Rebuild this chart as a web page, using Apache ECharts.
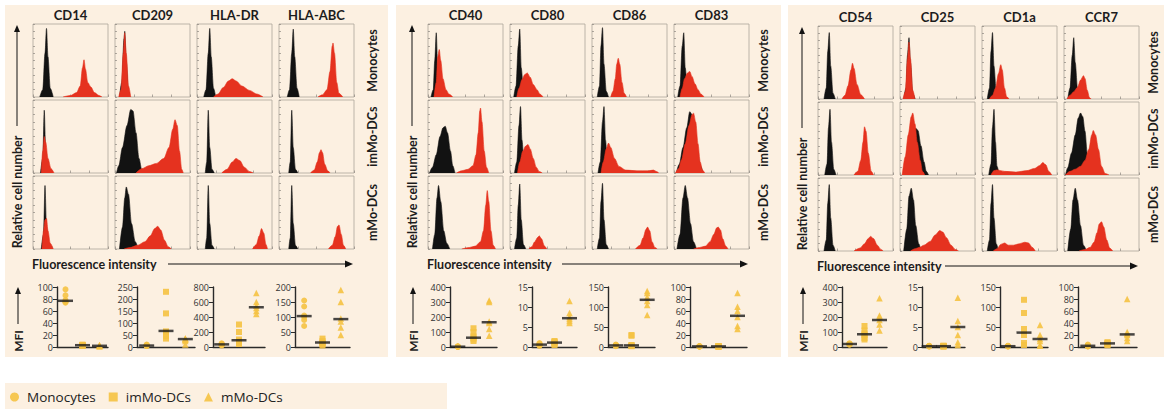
<!DOCTYPE html>
<html><head><meta charset="utf-8">
<script src="https://cdn.jsdelivr.net/npm/echarts@6/dist/echarts.min.js"></script>
<style>html,body{margin:0;padding:0;background:#fff;}#c{width:1170px;height:412px;}</style>
</head><body><div id="c"></div>
<script>
// ---------- labels ----------
const markers = [['CD14','CD209','HLA-DR','HLA-ABC'],['CD40','CD80','CD86','CD83'],['CD54','CD25','CD1a','CCR7']];
const cellTypes = ['Monocytes','imMo-DCs','mMo-DCs'];

// ---------- histogram curves: [intensity %, relative count %] per row (Monocytes, imMo-DCs, mMo-DCs) ----------
const black_CD14 = [
 [[9,0],[13,10],[16,60],[18,94],[20,55],[23,12],[27,0]],
 [[10,0],[13,20],[15,86],[17,30],[20,3],[23,0]],
 [[11,0],[14,20],[16,87],[18,30],[21,3],[24,0]]];
const red_CD14 = [
 [[40,0],[50,2],[58,6],[63,15],[66,40],[68,51],[70,38],[73,20],[77,14],[82,6],[88,2],[92,0]],
 [[11,0],[13,30],[15,50],[17,42],[20,20],[24,6],[28,0]],
 [[12,0],[14,25],[16,40],[18,42],[20,25],[23,8],[27,0]]];
const black_CD209 = [
 [[6,0],[9,20],[12,80],[13,90],[15,50],[18,5],[20,0]],
 [[2,0],[5,10],[10,35],[16,65],[21,87],[24,85],[28,55],[32,20],[36,3],[38,0]],
 [[6,0],[10,30],[13,70],[15,85],[18,75],[22,35],[27,10],[31,0]]];
const red_CD209 = [
 [[5,0],[8,10],[11,60],[13,88],[15,60],[18,15],[21,0]],
 [[28,0],[36,6],[45,10],[55,13],[65,20],[72,35],[77,60],[80,73],[83,65],[86,30],[89,5],[91,0]],
 [[12,0],[20,2],[30,5],[40,10],[47,18],[53,28],[57,31],[61,26],[66,12],[71,3],[75,0]]];
const black_HLADR = [
 [[9,0],[12,10],[15,60],[17,94],[19,55],[22,12],[25,0]],
 [[11,0],[13,15],[15,86],[17,35],[20,5],[23,0]],
 [[11,0],[13,15],[15,87],[17,35],[20,5],[23,0]]];
const red_HLADR = [
 [[22,0],[28,4],[35,13],[42,22],[47,25],[52,22],[60,15],[70,9],[80,4],[88,0]],
 [[33,0],[40,5],[47,15],[52,20],[57,17],[63,8],[70,2],[75,0]],
 [[74,0],[79,6],[83,18],[86,28],[89,22],[92,6],[94,0]]];
const black_HLAABC = [
 [[11,0],[14,10],[17,60],[19,93],[21,55],[24,12],[27,0]],
 [[13,0],[15,15],[17,86],[19,35],[22,5],[25,0]],
 [[13,0],[15,15],[17,87],[19,35],[22,5],[25,0]]];
const red_HLAABC = [
 [[52,0],[58,3],[64,10],[68,35],[71,70],[72,74],[74,60],[77,20],[80,5],[85,0]],
 [[42,0],[47,4],[51,15],[54,28],[56,32],[58,28],[61,12],[65,3],[68,0]],
 [[66,0],[71,5],[75,17],[78,31],[80,33],[83,20],[86,5],[89,0]]];
const black_CD40 = [
 [[4,0],[7,10],[9,50],[11,88],[13,40],[15,10],[18,0]],
 [[2,0],[6,8],[11,25],[16,50],[20,62],[23,64],[26,55],[30,30],[33,10],[36,0]],
 [[6,0],[9,20],[12,70],[14,87],[17,65],[21,25],[25,8],[29,0]]];
const red_CD40 = [
 [[8,0],[11,20],[13,55],[15,65],[17,50],[20,25],[24,10],[28,4],[33,0]],
 [[38,0],[45,3],[53,5],[60,10],[64,25],[67,55],[69,85],[70,89],[72,70],[75,30],[78,8],[81,0]],
 [[45,0],[55,2],[63,4],[70,10],[74,25],[77,60],[79,80],[81,65],[84,25],[87,5],[90,0]]];
const black_CD80 = [
 [[5,0],[8,15],[11,70],[13,93],[15,40],[18,8],[21,0]],
 [[6,0],[9,15],[12,65],[14,91],[16,45],[19,8],[22,0]],
 [[6,0],[9,15],[11,60],[13,89],[15,40],[18,6],[21,0]]];
const red_CD80 = [
 [[9,0],[12,12],[16,24],[20,31],[23,33],[27,27],[31,17],[36,10],[40,4],[44,0]],
 [[10,0],[13,15],[17,30],[21,37],[24,39],[27,33],[31,20],[35,8],[39,2],[43,0]],
 [[25,0],[29,3],[33,10],[37,16],[39,18],[42,14],[46,4],[49,0]]];
const black_CD86 = [
 [[7,0],[10,15],[12,70],[14,95],[16,45],[19,8],[22,0]],
 [[8,0],[11,15],[14,70],[16,91],[18,45],[21,8],[24,0]],
 [[7,0],[10,15],[12,65],[14,90],[16,40],[19,6],[22,0]]];
const red_CD86 = [
 [[25,0],[28,8],[31,25],[33,45],[35,53],[37,45],[40,20],[43,5],[46,0]],
 [[12,0],[15,15],[19,33],[22,41],[25,35],[30,20],[36,9],[45,4],[60,3],[75,3],[82,4],[86,2],[89,0]],
 [[58,0],[64,5],[68,15],[72,27],[74,30],[77,25],[80,10],[84,2],[87,0]]];
const black_CD83 = [
 [[5,0],[8,15],[11,70],[13,88],[15,40],[18,8],[21,0]],
 [[3,0],[7,12],[12,35],[17,62],[21,84],[24,80],[27,60],[31,30],[35,10],[39,0]],
 [[4,0],[8,20],[12,70],[15,87],[18,70],[22,35],[26,10],[30,0]]];
const red_CD83 = [
 [[8,0],[11,12],[14,25],[18,33],[21,35],[24,28],[28,18],[32,10],[36,4],[40,0]],
 [[2,0],[6,6],[10,18],[15,40],[20,65],[24,80],[26,82],[29,70],[32,40],[35,15],[38,4],[41,0]],
 [[26,0],[34,2],[42,4],[48,10],[53,20],[57,29],[59,30],[62,26],[65,14],[69,4],[72,0]]];
const black_CD54 = [
 [[8,0],[11,15],[13,65],[15,91],[17,45],[20,8],[23,0]],
 [[9,0],[12,15],[14,65],[16,90],[18,45],[21,8],[24,0]],
 [[8,0],[11,15],[13,65],[15,91],[17,45],[20,8],[23,0]]];
const red_CD54 = [
 [[32,0],[36,5],[40,18],[44,40],[46,49],[48,42],[52,20],[57,6],[62,0]],
 [[48,0],[53,5],[57,20],[60,45],[62,66],[64,60],[67,30],[71,5],[74,0]],
 [[48,0],[56,4],[62,10],[67,17],[70,20],[74,17],[79,8],[84,2],[87,0]]];
const black_CD25 = [
 [[5,0],[8,15],[10,60],[12,84],[14,50],[17,8],[20,0]],
 [[5,0],[9,20],[13,45],[17,62],[21,64],[24,61],[28,40],[32,18],[35,5],[38,0]],
 [[5,0],[9,30],[12,75],[15,86],[18,70],[21,35],[25,10],[28,0]]];
const red_CD25 = [
 [[4,0],[7,10],[10,55],[12,78],[14,55],[17,12],[20,0]],
 [[3,0],[7,25],[11,55],[15,80],[17,85],[20,70],[23,45],[27,20],[30,5],[33,0]],
 [[14,0],[20,3],[26,5],[32,8],[40,13],[47,22],[53,28],[57,26],[62,18],[68,8],[74,2],[78,0]]];
const black_CD1a = [
 [[7,0],[10,15],[12,65],[14,91],[16,45],[19,10],[22,0]],
 [[9,0],[12,15],[14,65],[16,90],[18,45],[20,12],[23,0]],
 [[7,0],[10,15],[12,65],[14,91],[16,45],[19,10],[22,0]]];
const red_CD1a = [
 [[10,0],[14,5],[18,15],[22,35],[25,47],[27,40],[30,15],[33,3],[36,0]],
 [[12,0],[16,6],[20,7],[30,5],[45,4],[60,6],[70,9],[77,13],[81,17],[85,14],[89,5],[93,0]],
 [[15,0],[20,3],[25,9],[30,11],[35,8],[42,8],[50,10],[57,12],[62,11],[67,5],[71,0]]];
const black_CCR7 = [
 [[5,0],[8,15],[11,60],[13,84],[15,50],[18,15],[21,0]],
 [[2,0],[5,10],[10,30],[15,55],[19,78],[22,85],[25,80],[28,60],[31,30],[34,5],[36,0]],
 [[5,0],[9,30],[12,70],[15,86],[18,70],[22,35],[26,8],[30,0]]];
const red_CCR7 = [
 [[4,0],[8,5],[13,10],[18,16],[22,26],[26,32],[28,28],[31,12],[34,2],[36,0]],
 [[2,0],[8,5],[15,8],[22,12],[28,20],[33,35],[37,55],[39,61],[42,55],[46,35],[50,12],[55,2],[60,0]],
 [[20,0],[28,2],[35,5],[40,12],[44,25],[47,37],[50,40],[53,33],[57,15],[61,4],[65,0]]];

// ---------- MFI values: [Monocytes, imMo-DCs, mMo-DCs] ----------
const mfi_CD14 = [[96,86,78,76,75,74],[3,3,2,4,2,3],[2,3,2,3,1,2]];
const med_CD14 = [77,3,2];
const mfi_CD209 = [[8,5,6,4,10,7],[230,140,65,60,45,35],[35,30,25,10,35,32]];
const med_CD209 = [6,67,33];
const mfi_HLADR = [[30,50,20,40,35,25],[300,200,100,80,60,40],[720,600,550,520,480,440]];
const med_HLADR = [35,90,530];
const mfi_HLAABC = [[155,135,105,100,90,70],[28,20,15,12,10,5],[190,150,95,85,65,40]];
const med_HLAABC = [103,15,93];
const mfi_CD40 = [[2,3,1,4,2,3],[125,100,70,60,50,40],[310,300,170,160,120,75]];
const med_CD40 = [2,62,165];
const mfi_CD80 = [[0.5,0.8,0.3,0.6,1.0,0.4],[1.5,1.2,1.0,0.8,0.5,1.3],[11.5,8.5,7.5,7,6.5,6]];
const med_CD80 = [0.6,1.1,7.2];
const mfi_CD86 = [[4,5,3,6,2,5],[30,28,5,3,2,4],[140,135,125,115,105,80]];
const med_CD86 = [4,4,118];
const mfi_CD83 = [[1,1,0.5,1.5,1,0.8],[1,1.5,1,0.5,1.2,1],[90,67,60,50,35,30]];
const med_CD83 = [1,1,52];
const mfi_CD54 = [[25,20,18,22,15,20],[140,110,90,80,60,50],[325,210,200,180,150,110]];
const med_CD54 = [20,85,180];
const mfi_CD25 = [[0.2,0.3,0.1,0.2,0.3,0.2],[0.2,0.3,0.2,0.1,0.3,0.2],[12.3,6.5,5,3,1.2,0.5]];
const med_CD25 = [0.2,0.2,5];
const mfi_CD1a = [[2,3,1,2,3,2],[118,85,45,30,10,5],[55,30,20,15,5,3]];
const med_CD1a = [2,36,20];
const mfi_CCR7 = [[2,3,1,2,4,1],[8,7,5,4,3,6],[80,25,22,20,15,10]];
const med_CCR7 = [2,6,21];
const mfiMax  = [[100,250,800,200],[400,15,150,100],[400,15,150,100]];
const mfiStep = [[20,50,200,50],[100,5,50,20],[100,5,50,20]];

// ---------- lookup tables built from the arrays ----------
const hist = {CD14:[black_CD14,red_CD14],CD209:[black_CD209,red_CD209],'HLA-DR':[black_HLADR,red_HLADR],'HLA-ABC':[black_HLAABC,red_HLAABC],
 CD40:[black_CD40,red_CD40],CD80:[black_CD80,red_CD80],CD86:[black_CD86,red_CD86],CD83:[black_CD83,red_CD83],
 CD54:[black_CD54,red_CD54],CD25:[black_CD25,red_CD25],CD1a:[black_CD1a,red_CD1a],CCR7:[black_CCR7,red_CCR7]};
const mfi = {CD14:[mfi_CD14,med_CD14],CD209:[mfi_CD209,med_CD209],'HLA-DR':[mfi_HLADR,med_HLADR],'HLA-ABC':[mfi_HLAABC,med_HLAABC],
 CD40:[mfi_CD40,med_CD40],CD80:[mfi_CD80,med_CD80],CD86:[mfi_CD86,med_CD86],CD83:[mfi_CD83,med_CD83],
 CD54:[mfi_CD54,med_CD54],CD25:[mfi_CD25,med_CD25],CD1a:[mfi_CD1a,med_CD1a],CCR7:[mfi_CCR7,med_CCR7]};

// ---------- layout ----------
const panelX = [0,395,785];
const panelDY = [0,0,2];
const panelBg = [[5,5,383,352],[396,5,385,352],[788,5,376,352]];
const rowLabelX = [372,368,368];
const arrowStart = [168,167,160];
const colLeft = [33,115,197,279], rowTop = [24,100,176], cellW = 75, cellH = 73;
const sLeft = [[57,137,213,295],[55,137,213,295],[57,137,215,293]];
const sWidth = [[51,58,52,55],[47,45,47,57],[45,43,48,59]];
const sTop = 287, sHeight = 60;

const RED = '#e5321f', BLK = '#121212', GOLD = '#f5c243', TXT = '#1c1c1c', BG = '#fcf0e1';
const FONT = 'Lato, "Open Sans", sans-serif';
const symbols = ['circle','rect','triangle'];
const symSizes = [6,6,6.5];

const option = {animation:false, grid:[], xAxis:[], yAxis:[], series:[], graphic:[],
  legend:{data:cellTypes, left:10, top:390, padding:0, itemWidth:9, itemHeight:9, itemGap:13,
    textStyle:{fontFamily:'"Open Sans", sans-serif', fontSize:13.5, color:'#222', padding:[0,0,0,3]}}};
let gi = 0;
function addGrid(g, xa, ya){ option.grid.push(g); xa.gridIndex=gi; ya.gridIndex=gi; option.xAxis.push(xa); option.yAxis.push(ya); return gi++; }

const G = option.graphic;
panelBg.forEach(b=>G.push({type:'rect', z:-100, shape:{x:b[0],y:b[1],width:b[2],height:b[3]}, style:{fill:BG}}));
G.push({type:'rect', z:-100, shape:{x:5,y:383,width:442,height:26}, style:{fill:BG}});

function txt(x,y,text,size,rot,weight,align){
  G.push({type:'text', z:50, x:x, y:y, rotation:rot||0,
    style:{text:text, x:0, y:0, fill:TXT, font:(weight||'bold')+' '+size+'px '+FONT, textAlign:align||'center', textVerticalAlign:'middle'}});
}
function arrowUp(x,y1,y2){
  G.push({type:'line', z:50, shape:{x1:x,y1:y1,x2:x,y2:y2+5}, style:{stroke:BLK,lineWidth:1}});
  G.push({type:'polygon', z:50, shape:{points:[[x,y2],[x-3,y2+7],[x+3,y2+7]]}, style:{fill:BLK}});
}
function arrowRight(y,x1,x2){
  G.push({type:'line', z:50, shape:{x1:x1,y1:y,x2:x2-5,y2:y}, style:{stroke:BLK,lineWidth:1}});
  G.push({type:'polygon', z:50, shape:{points:[[x2,y],[x2-8,y-3.5],[x2-8,y+3.5]]}, style:{fill:BLK}});
}

markers.forEach((mk,p)=>{
  const px = panelX[p], dy = panelDY[p];
  txt(px+17, 192+dy, 'Relative cell number', 12.5, Math.PI/2);
  arrowUp(px+17, 126+dy, 25+dy);
  txt(px+32, 264+dy, 'Fluorescence intensity', 12.5, 0, 'bold', 'left');
  arrowRight(264+dy, px+arrowStart[p], px+353);
  txt(px+18, 341, 'MFI', 12, Math.PI/2);
  arrowUp(px+18, 324, 287);
  cellTypes.forEach((ct,r)=> txt(px+rowLabelX[p], rowTop[r]+dy+cellH/2, ct, 12.5, Math.PI/2));

  mk.forEach((m,c)=>{
    txt(px+colLeft[c]+cellW/2, 15+dy, m, 13, 0);
    for(let r=0;r<3;r++){
      const i = addGrid({left:px+colLeft[c], top:rowTop[r]+dy, width:cellW, height:cellH, show:true, borderColor:'#aca49b', borderWidth:0.8, backgroundColor:'rgba(0,0,0,0)'},
        {type:'value', min:0, max:100, interval:25, axisLine:{show:false}, axisTick:{show:true, inside:true, length:2.5, lineStyle:{color:'#8d877f', width:0.7}}, axisLabel:{show:false}, splitLine:{show:false}},
        {type:'value', min:0, max:100, interval:10, axisLine:{show:false}, axisTick:{show:true, inside:true, length:2, lineStyle:{color:'#8d877f', width:0.7}}, axisLabel:{show:false}, splitLine:{show:false}});
      const [bk, rd] = hist[m];
      option.series.push({type:'line', xAxisIndex:i, yAxisIndex:i, data:bk[r], smooth:0.3, smoothMonotone:'x', symbol:'none', silent:true, z:2,
        lineStyle:{color:BLK,width:0.6}, areaStyle:{color:BLK,opacity:1}});
      option.series.push({type:'line', xAxisIndex:i, yAxisIndex:i, data:rd[r], smooth:0.3, smoothMonotone:'x', symbol:'none', silent:true, z:3,
        lineStyle:{color:RED,width:0.6}, areaStyle:{color:RED,opacity:1}});
    }
    const j = addGrid({left:px+sLeft[p][c], top:sTop, width:sWidth[p][c], height:sHeight},
      {type:'category', data:cellTypes, boundaryGap:true, axisLine:{lineStyle:{color:'#2a2a2a', width:1.4}}, axisTick:{show:false}, axisLabel:{show:false}, splitLine:{show:false}},
      {type:'value', min:0, max:mfiMax[p][c], interval:mfiStep[p][c], axisLine:{show:true, lineStyle:{color:'#2a2a2a', width:1.4}},
        axisTick:{show:true, length:4, lineStyle:{color:'#2a2a2a', width:1}}, axisLabel:{fontSize:9, color:'#333', margin:4, fontFamily:'"Open Sans", sans-serif'}, splitLine:{show:false}});
    const [vals, meds] = mfi[m];
    cellTypes.forEach((ct,k)=>{
      option.series.push({type:'scatter', name:ct, xAxisIndex:j, yAxisIndex:j, symbol:symbols[k], symbolSize:symSizes[k], z:4,
        itemStyle:{color:GOLD, opacity:0.9}, data: vals[k].map(v=>[k,v])});
    });
    option.series.push({type:'scatter', name:'median', xAxisIndex:j, yAxisIndex:j, symbol:'rect', symbolSize:[15,2.5], z:5,
      itemStyle:{color:'#1a1a1a'}, data: meds.map((v,k)=>[k,v])});
  });
});

const chart = echarts.init(document.getElementById('c'), null, {renderer:'svg'});
chart.setOption(option);
</script>
</body></html>
